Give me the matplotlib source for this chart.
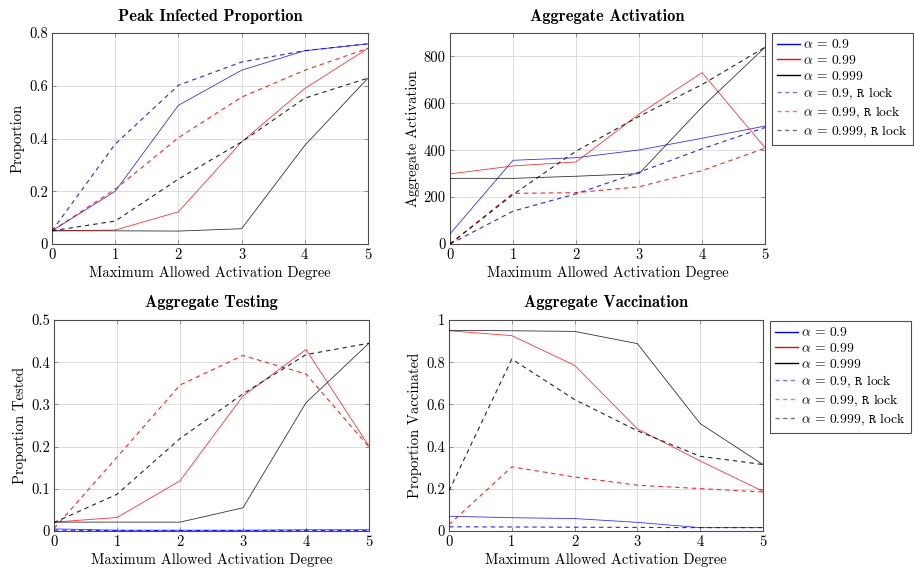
import matplotlib
matplotlib.use("Agg")
import matplotlib.pyplot as plt
from matplotlib.ticker import FuncFormatter
from matplotlib.lines import Line2D

plt.rcParams['font.family'] = 'serif'
plt.rcParams['font.serif'] = ['cmr10', 'DejaVu Serif']
plt.rcParams['mathtext.fontset'] = 'cm'
plt.rcParams['axes.formatter.use_mathtext'] = True
plt.rcParams['font.size'] = 10

degrees = [0, 1, 2, 3, 4, 5]
series_labels = [r'$\alpha\,=\,0.9$', r'$\alpha\,=\,0.99$', r'$\alpha\,=\,0.999$',
                 r'$\alpha\,=\,0.9$, $\mathtt{R}$ lock', r'$\alpha\,=\,0.99$, $\mathtt{R}$ lock',
                 r'$\alpha\,=\,0.999$, $\mathtt{R}$ lock']

# Peak Infected Proportion
peak_a09 = [0.05, 0.200, 0.526, 0.659, 0.733, 0.759]
peak_a099 = [0.05, 0.053, 0.122, 0.387, 0.590, 0.742]
peak_a0999 = [0.05, 0.050, 0.049, 0.058, 0.374, 0.629]
peak_a09_lock = [0.05, 0.379, 0.602, 0.690, 0.733, 0.759]
peak_a099_lock = [0.05, 0.208, 0.403, 0.557, 0.659, 0.742]
peak_a0999_lock = [0.05, 0.087, 0.246, 0.387, 0.553, 0.629]

# Aggregate Activation
act_a09 = [43, 357, 368, 401, 451, 503]
act_a099 = [299, 333, 350, 554, 731, 411]
act_a0999 = [280, 280, 289, 300, 584, 839]
act_a09_lock = [0, 140, 214, 306, 406, 497]
act_a099_lock = [0, 216, 219, 244, 313, 409]
act_a0999_lock = [0, 211, 396, 544, 680, 839]

# Aggregate Testing
test_a09 = [0.005, 0.002, 0.002, 0.002, 0.003, 0.003]
test_a099 = [0.021, 0.032, 0.119, 0.320, 0.430, 0.201]
test_a0999 = [0.021, 0.021, 0.021, 0.055, 0.304, 0.445]
test_a09_lock = [0.002, 0.001, 0.001, 0.001, 0.001, 0.001]
test_a099_lock = [0.006, 0.175, 0.346, 0.416, 0.372, 0.199]
test_a0999_lock = [0.020, 0.087, 0.219, 0.325, 0.418, 0.445]

# Aggregate Vaccination
vac_a09 = [0.070, 0.063, 0.059, 0.041, 0.016, 0.016]
vac_a099 = [0.949, 0.926, 0.785, 0.484, 0.332, 0.188]
vac_a0999 = [0.951, 0.949, 0.946, 0.888, 0.509, 0.315]
vac_a09_lock = [0.020, 0.019, 0.018, 0.017, 0.016, 0.016]
vac_a099_lock = [0.030, 0.304, 0.256, 0.217, 0.201, 0.185]
vac_a0999_lock = [0.190, 0.815, 0.623, 0.475, 0.354, 0.315]

colors = ['#0000ff', '#ff0000', '#000000']

fig = plt.figure(figsize=(9.14, 5.71), dpi=100)
W, H = 914, 571

def add_ax(l, r, t, b):
    return fig.add_axes([l / W, 1 - b / H, (r - l) / W, (b - t) / H])

ax_tl = add_ax(52, 368, 33, 244)
ax_tr = add_ax(450, 765, 33, 244)
ax_bl = add_ax(54, 369, 320, 531)
ax_br = add_ax(449, 763, 320, 531)

fmt = FuncFormatter(lambda v, p: '%g' % v)

def draw(ax, data, title, ylabel, ymax, yticks):
    for i, s in enumerate(data[:3]):
        ax.plot(degrees, s, color=colors[i], lw=0.6, alpha=0.8, zorder=3)
    for i, s in enumerate(data[3:]):
        ax.plot(degrees, s, color=colors[i], lw=0.8, dashes=(4, 3.5), alpha=0.85, zorder=3)
    ax.set_xlim(0, 5)
    ax.set_ylim(0, ymax)
    ax.set_xticks(degrees)
    ax.set_yticks(yticks)
    ax.yaxis.set_major_formatter(fmt)
    ax.xaxis.set_major_formatter(fmt)
    ax.grid(True, color='#d8d8d8', lw=0.6, zorder=0)
    ax.set_axisbelow(True)
    for sp in ax.spines.values():
        sp.set_color('#4d4d4d')
        sp.set_linewidth(0.8)
    ax.tick_params(direction='in', length=3, width=0.5, color='#6d6d6d',
                   top=True, right=True, labelsize=10.5, pad=3)
    ax.set_title(title, fontfamily='cmb10', fontsize=11.8, pad=9)
    ax.set_xlabel('Maximum Allowed Activation Degree', fontsize=10.5, labelpad=3)
    ax.set_ylabel(ylabel, fontsize=10.5, labelpad=3)

draw(ax_tl, [peak_a09, peak_a099, peak_a0999, peak_a09_lock, peak_a099_lock, peak_a0999_lock],
     'Peak Infected Proportion', 'Proportion', 0.8, [0, 0.2, 0.4, 0.6, 0.8])
draw(ax_tr, [act_a09, act_a099, act_a0999, act_a09_lock, act_a099_lock, act_a0999_lock],
     'Aggregate Activation', 'Aggregate Activation', 900, [0, 200, 400, 600, 800])
draw(ax_bl, [test_a09, test_a099, test_a0999, test_a09_lock, test_a099_lock, test_a0999_lock],
     'Aggregate Testing', 'Proportion Tested', 0.5, [0, 0.1, 0.2, 0.3, 0.4, 0.5])
draw(ax_br, [vac_a09, vac_a099, vac_a0999, vac_a09_lock, vac_a099_lock, vac_a0999_lock],
     'Aggregate Vaccination', 'Proportion Vaccinated', 1.0, [0, 0.2, 0.4, 0.6, 0.8, 1.0])

handles = [Line2D([], [], color=colors[i], lw=1.0) for i in range(3)] + \
          [Line2D([], [], color=colors[i], lw=1.0, dashes=(3, 2.5), alpha=0.55) for i in range(3)]

for (x, y) in [(772, 33), (770, 321)]:
    leg = fig.legend(handles, series_labels, loc='upper left',
                     bbox_to_anchor=(x / W, 1 - y / H), bbox_transform=fig.transFigure,
                     frameon=True, fancybox=False, shadow=False, fontsize=9.8,
                     handlelength=1.65, handletextpad=0.25, labelspacing=0.2,
                     borderpad=0.4, borderaxespad=0)
    leg.get_frame().set_edgecolor('#4d4d4d')
    leg.get_frame().set_linewidth(0.8)
    leg.get_frame().set_alpha(1)

fig.savefig('out.png', dpi=100)
